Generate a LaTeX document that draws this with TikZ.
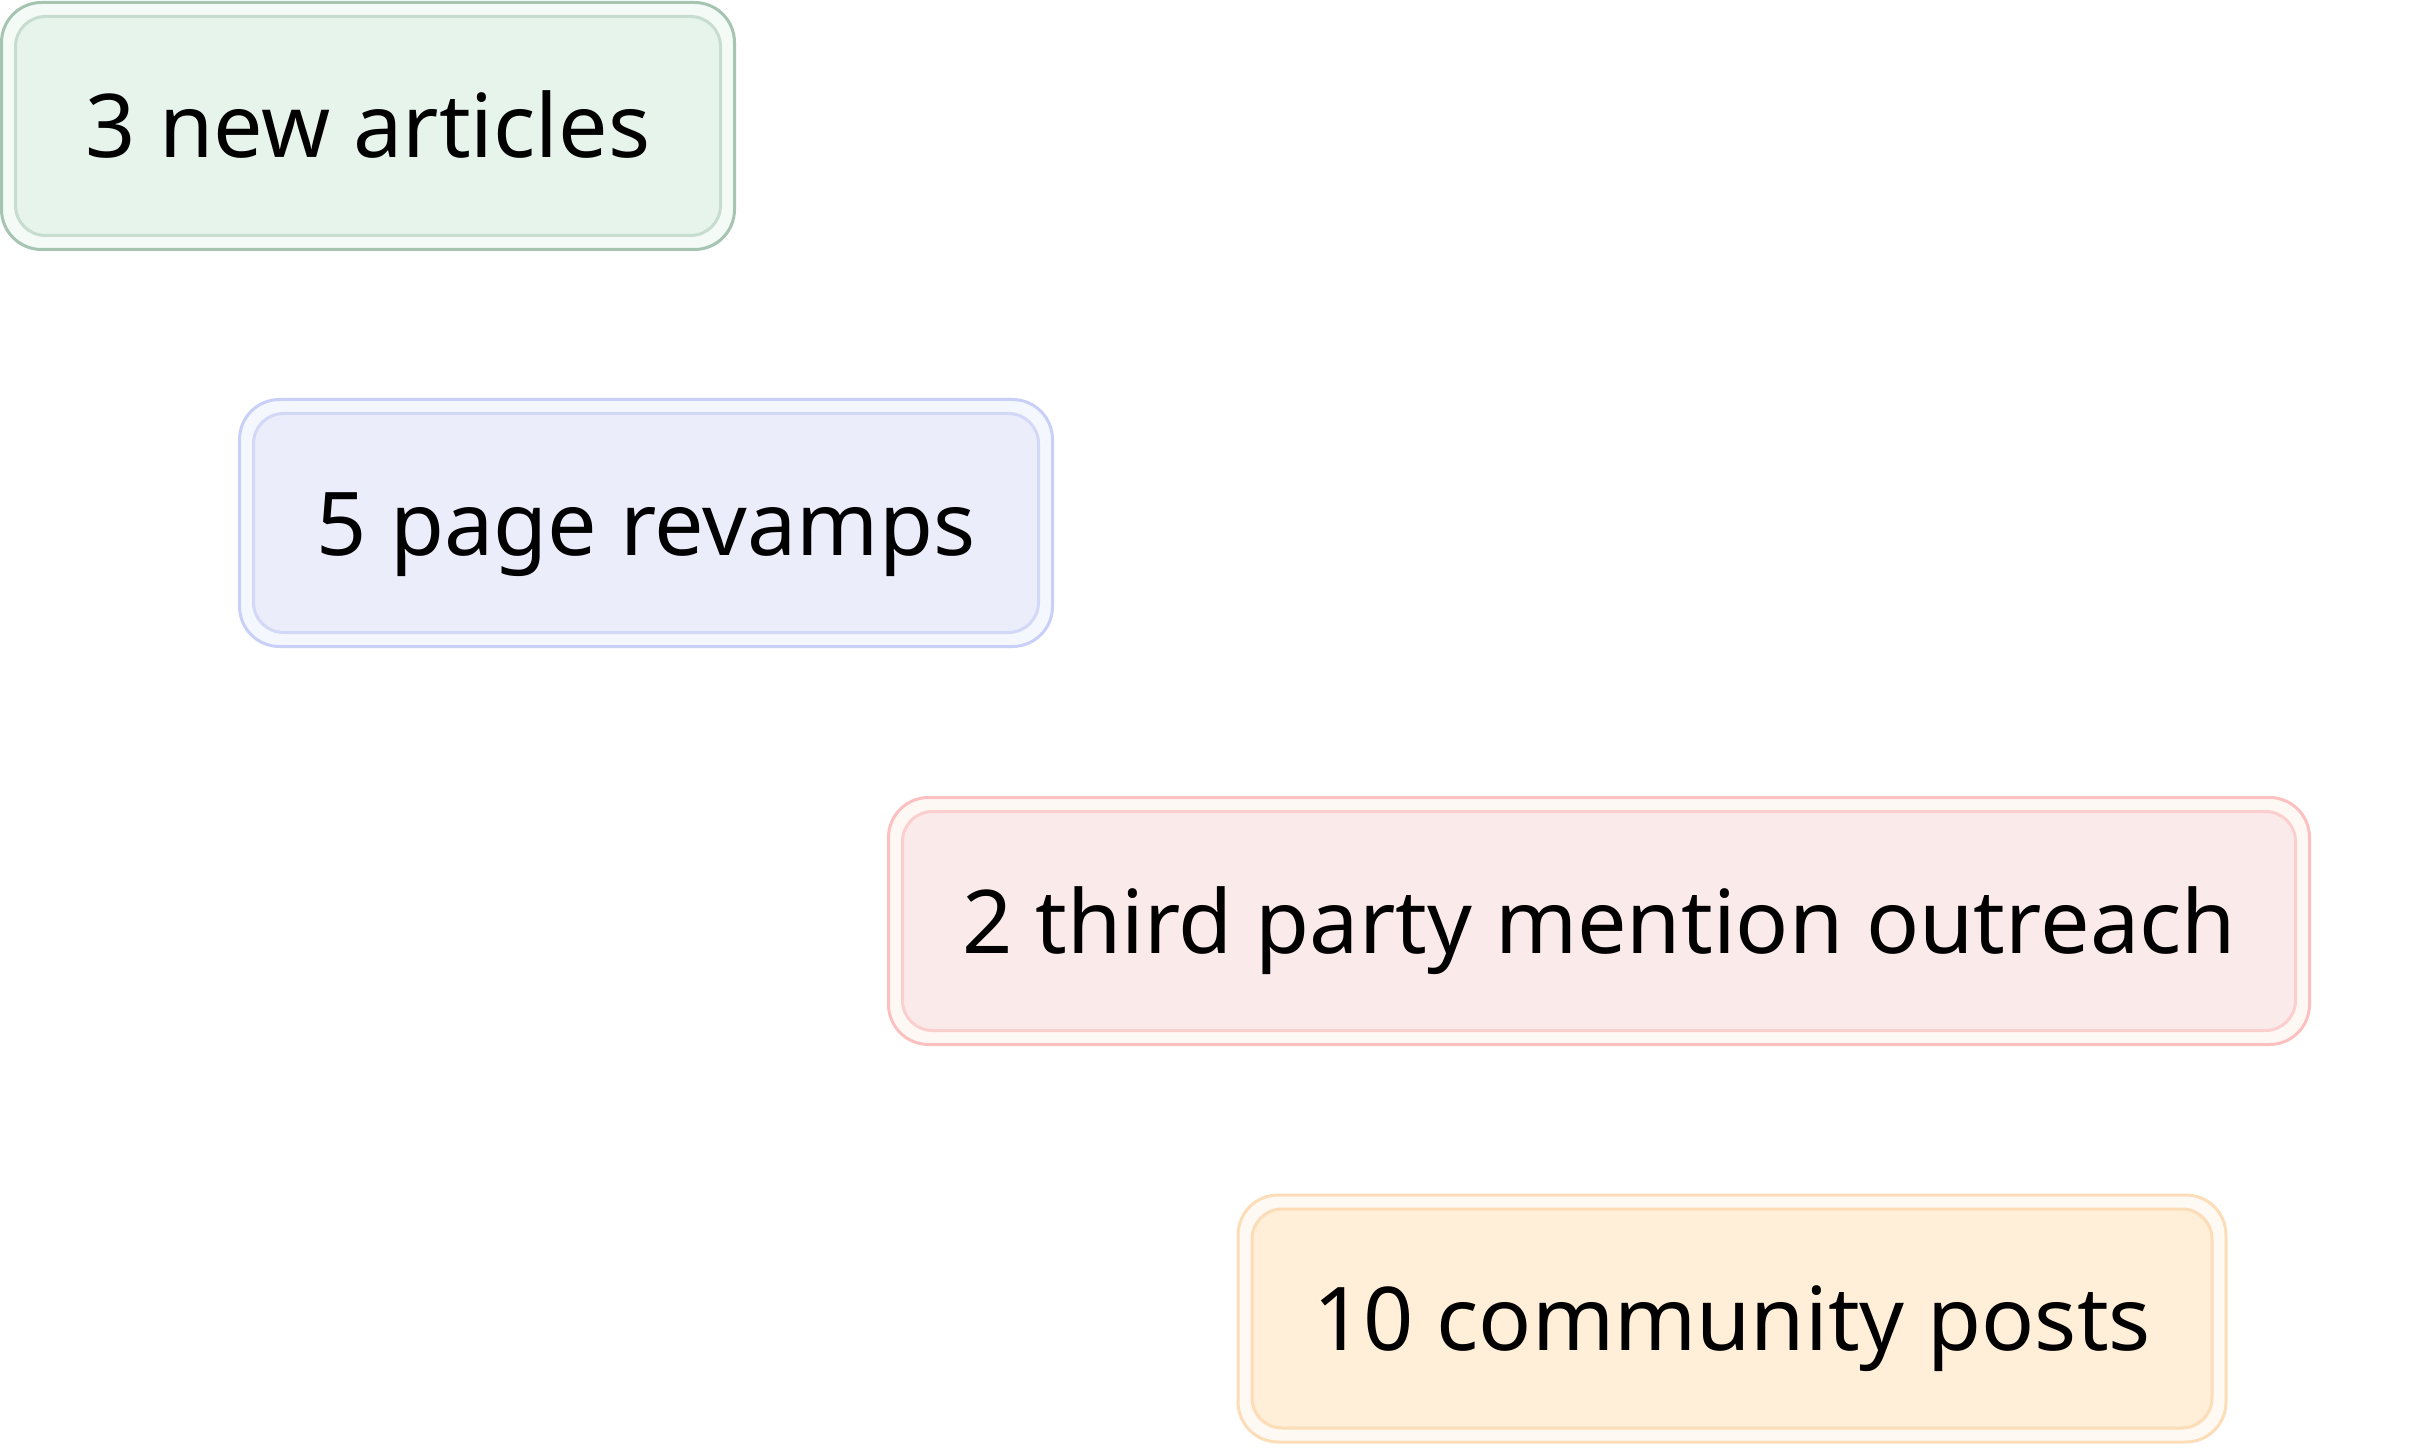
\documentclass[tikz,border=0pt]{standalone}
\usepackage{fontspec}
\setmainfont{Noto Sans}
\definecolor{gFill}{HTML}{E7F4EC}\definecolor{gOut}{HTML}{A5C4B1}\definecolor{gIn}{HTML}{C6DDCF}\definecolor{gRing}{HTML}{F4FAF6}
\definecolor{bFill}{HTML}{EBEDFB}\definecolor{bOut}{HTML}{C9D0F8}\definecolor{bIn}{HTML}{D3D8F7}\definecolor{bRing}{HTML}{F5F7FE}
\definecolor{rFill}{HTML}{FAEAEA}\definecolor{rOut}{HTML}{FDC0C0}\definecolor{rIn}{HTML}{FCCFCF}\definecolor{rRing}{HTML}{FEF8F5}
\definecolor{oFill}{HTML}{FFEFD8}\definecolor{oOut}{HTML}{FDDDB8}\definecolor{oIn}{HTML}{FCDDB8}\definecolor{oRing}{HTML}{FFF9F3}
\tikzset{
  outerbox/.style={rectangle, rounded corners=20pt, line width=1.5pt, inner sep=0pt, minimum height=123.5pt},
  innerbox/.style={rectangle, rounded corners=15pt, line width=1.5pt, inner sep=0pt, minimum height=109.5pt,
     font=\fontsize{44}{53}\selectfont, text height=32pt, text depth=0pt, text=black},
}
\begin{document}
\begin{tikzpicture}[x=0.5pt,y=-0.5pt]
\useasboundingbox (0,0) rectangle (2415,1449);
\node[outerbox, draw=gOut, fill=gRing, minimum width=366.5pt] (o1) at (368,126) {};
\node[innerbox, draw=gIn, fill=gFill, minimum width=352.5pt] (b1) at (o1.center) {3 new articles};
\node[outerbox, draw=bOut, fill=bRing, minimum width=406.5pt] (o2) at (646,523) {};
\node[innerbox, draw=bIn, fill=bFill, minimum width=392.5pt] (b2) at (o2.center) {5 page revamps};
\node[outerbox, draw=rOut, fill=rRing, minimum width=710.5pt] (o3) at (1599,921) {};
\node[innerbox, draw=rIn, fill=rFill, minimum width=696.5pt] (b3) at (o3.center) {2 third party mention outreach};
\node[outerbox, draw=oOut, fill=oRing, minimum width=494pt] (o4) at (1732,1318.5) {};
\node[innerbox, draw=oIn, fill=oFill, minimum width=480pt] (b4) at (o4.center) {10 community posts};
\end{tikzpicture}
\end{document}
